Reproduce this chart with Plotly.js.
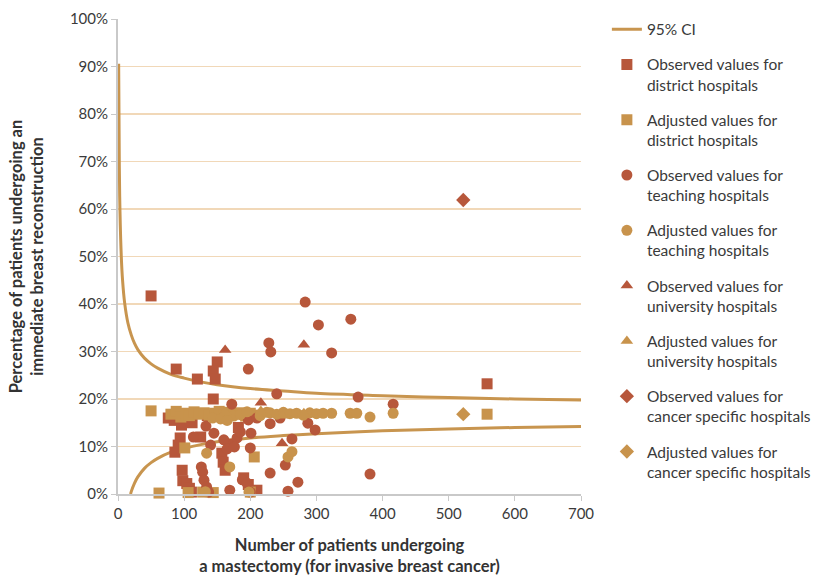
<!DOCTYPE html>
<html>
<head>
<meta charset="utf-8">
<script src="https://cdn.plot.ly/plotly-3.0.1.min.js"></script>
<style>html,body{margin:0;padding:0;background:#fff;}#chart{width:819px;height:576px;}</style>
</head>
<body>
<div id="chart"></div>
<script>
// 95% confidence limits
var ciUpperX = [1, 2, 3, 5, 7, 10, 15, 20, 25, 30, 40, 50, 60, 80, 100, 125, 150, 200, 250, 300, 400, 500, 600, 700];
var ciUpperY = [90.6, 69.0, 59.5, 49.9, 44.8, 40.3, 36.0, 33.5, 31.7, 30.4, 28.6, 27.4, 26.5, 25.2, 24.4, 23.6, 23.0, 22.2, 21.7, 21.2, 20.7, 20.3, 20.0, 19.8];
var ciLowerX = [19, 20, 25, 30, 40, 50, 60, 80, 100, 125, 150, 200, 250, 300, 400, 500, 600, 700];
var ciLowerY = [0.0, 0.5, 2.3, 3.6, 5.4, 6.6, 7.5, 8.8, 9.6, 10.4, 11.0, 11.8, 12.3, 12.7, 13.3, 13.7, 14.0, 14.2];

// District hospitals
var obsDistrictX = [50, 88, 120, 150, 144, 147, 144, 558, 76, 85, 100, 112, 94, 91, 86, 97, 98, 104, 108, 111, 157, 159, 162, 96, 135, 190, 197, 210, 125, 182, 170];
var obsDistrictY = [41.7, 26.3, 24.2, 27.8, 25.9, 24.2, 20.0, 23.2, 16.0, 15.5, 16.4, 15.0, 11.8, 10.3, 8.8, 5.0, 2.8, 2.2, 1.2, 0.4, 8.6, 6.7, 5.0, 14.5, 16.5, 3.4, 2.0, 0.8, 12.0, 14.0, 10.5];
var adjDistrictX = [50, 62, 558, 206, 101, 80, 88, 95, 103, 108, 115, 122, 130, 138, 146, 153, 160, 168, 176, 185, 193, 200, 208, 106, 128, 144, 200];
var adjDistrictY = [17.5, 0.2, 16.8, 7.8, 9.7, 16.8, 17.4, 16.2, 17.0, 16.5, 17.3, 16.8, 17.1, 16.6, 17.0, 17.4, 16.7, 17.2, 16.9, 17.1, 16.4, 17.0, 16.6, 0.3, 0.4, 0.3, 0.4];

// Teaching hospitals
var obsTeachingX = [283, 303, 352, 228, 231, 323, 197, 240, 172, 363, 416, 133, 145, 160, 165, 180, 185, 197, 201, 114, 263, 298, 287, 253, 230, 272, 257, 381, 169, 126, 128, 130, 134, 137, 188, 195, 200, 230, 245, 210, 176, 200, 140];
var obsTeachingY = [40.4, 35.6, 36.8, 31.8, 29.9, 29.7, 26.3, 21.1, 18.9, 20.4, 18.9, 14.3, 12.8, 11.4, 9.5, 11.8, 13.1, 15.6, 12.8, 12.0, 11.6, 13.5, 14.9, 6.1, 4.4, 2.5, 0.6, 4.2, 0.8, 5.7, 4.6, 2.9, 1.5, 0.4, 3.0, 2.3, 0.4, 14.8, 16.0, 16.0, 9.9, 9.7, 10.3];
var adjTeachingX = [323, 351, 361, 381, 416, 134, 169, 257, 230, 240, 250, 260, 270, 280, 290, 300, 310, 215, 225, 175, 185, 195, 143, 155, 165, 132, 198, 263];
var adjTeachingY = [17.0, 17.0, 17.0, 16.2, 17.0, 8.6, 5.7, 7.8, 17.1, 16.8, 17.2, 16.9, 17.0, 16.6, 17.1, 16.9, 17.0, 16.5, 17.2, 16.4, 16.7, 17.3, 16.0, 15.8, 15.5, 0.5, 0.4, 8.9];

// University hospitals
var obsUniversityX = [162, 281, 216, 248];
var obsUniversityY = [30.3, 31.4, 19.2, 10.7];
var adjUniversityX = [162, 281, 216, 248];
var adjUniversityY = [17.2, 17.0, 17.5, 16.5];

// Cancer specific hospitals
var obsCancerX = [522];
var obsCancerY = [61.9];
var adjCancerX = [522];
var adjCancerY = [16.8];

var obsColor = '#b7573b';
var adjColor = '#c8934c';
var ciColor = '#c8954f';
var mSize = 11;

function pts(name, group, x, y, color, symbol) {
  return {
    type: 'scatter', mode: 'markers', name: name, legendgroup: group, x: x, y: y, cliponaxis: false,
    marker: {color: color, symbol: symbol, size: mSize, line: {width: 0}}
  };
}

var traces = [
  {type: 'scatter', mode: 'lines', name: '95% CI', legendgroup: 'ci', x: ciUpperX, y: ciUpperY,
   line: {color: ciColor, width: 3, shape: 'spline'}},
  {type: 'scatter', mode: 'lines', name: '95% CI', legendgroup: 'ci', showlegend: false, x: ciLowerX, y: ciLowerY,
   line: {color: ciColor, width: 3, shape: 'spline'}},
  pts('Observed values for<br>district hospitals', 'g1', obsDistrictX, obsDistrictY, obsColor, 'square'),
  pts('Adjusted values for<br>district hospitals', 'g2', adjDistrictX, adjDistrictY, adjColor, 'square'),
  pts('Observed values for<br>teaching hospitals', 'g3', obsTeachingX, obsTeachingY, obsColor, 'circle'),
  pts('Adjusted values for<br>teaching hospitals', 'g4', adjTeachingX, adjTeachingY, adjColor, 'circle'),
  pts('Observed values for<br>university hospitals', 'g5', obsUniversityX, obsUniversityY, obsColor, 'triangle-up'),
  pts('Adjusted values for<br>university hospitals', 'g6', adjUniversityX, adjUniversityY, adjColor, 'triangle-up'),
  pts('Observed values for<br>cancer specific hospitals', 'g7', obsCancerX, obsCancerY, obsColor, 'diamond'),
  pts('Adjusted values for<br>cancer specific hospitals', 'g8', adjCancerX, adjCancerY, adjColor, 'diamond')
];

var layout = {
  width: 819, height: 576,
  margin: {l: 118, r: 238, t: 19, b: 82, pad: 0},
  paper_bgcolor: '#ffffff', plot_bgcolor: '#ffffff',
  font: {family: 'Lato, "Open Sans", sans-serif', size: 14, color: '#3a3a3a'},
  showlegend: true,
  legend: {xref: 'container', yref: 'container', x: 0.741, xanchor: 'left', y: 0.978, yanchor: 'top', valign: 'top',
           traceorder: 'grouped', tracegroupgap: 12, maxheight: 560,
           font: {size: 15.5, color: '#3a3a3a'}, bgcolor: 'rgba(0,0,0,0)'},
  xaxis: {
    range: [0, 700], dtick: 100, tick0: 0, showgrid: false, zeroline: false,
    showline: true, linecolor: '#c9c9c9', linewidth: 2,
    ticks: 'outside', ticklen: 5, tickcolor: '#c9c9c9', tickwidth: 1,
    tickfont: {size: 15, color: '#3a3a3a'},
    title: {text: '<b>Number of patients undergoing<br>a mastectomy (for invasive breast cancer)</b>',
            font: {size: 16.5, color: '#333'}, standoff: 20}
  },
  yaxis: {
    range: [0, 100], dtick: 10, tick0: 0, ticksuffix: '%', zeroline: false,
    showgrid: true, gridcolor: '#f1d8b8', gridwidth: 1.5,
    showline: true, linecolor: '#c9c9c9', linewidth: 2,
    ticks: 'outside', ticklen: 5, tickcolor: '#c9c9c9', tickwidth: 1,
    tickfont: {size: 15, color: '#3a3a3a'},
    title: {text: '<b>Percentage of patients undergoing an<br>immediate breast reconstruction</b>',
            font: {size: 16.5, color: '#333'}, standoff: 22}
  }
};

Plotly.newPlot('chart', traces, layout, {displayModeBar: false, staticPlot: true});
</script>
</body>
</html>
